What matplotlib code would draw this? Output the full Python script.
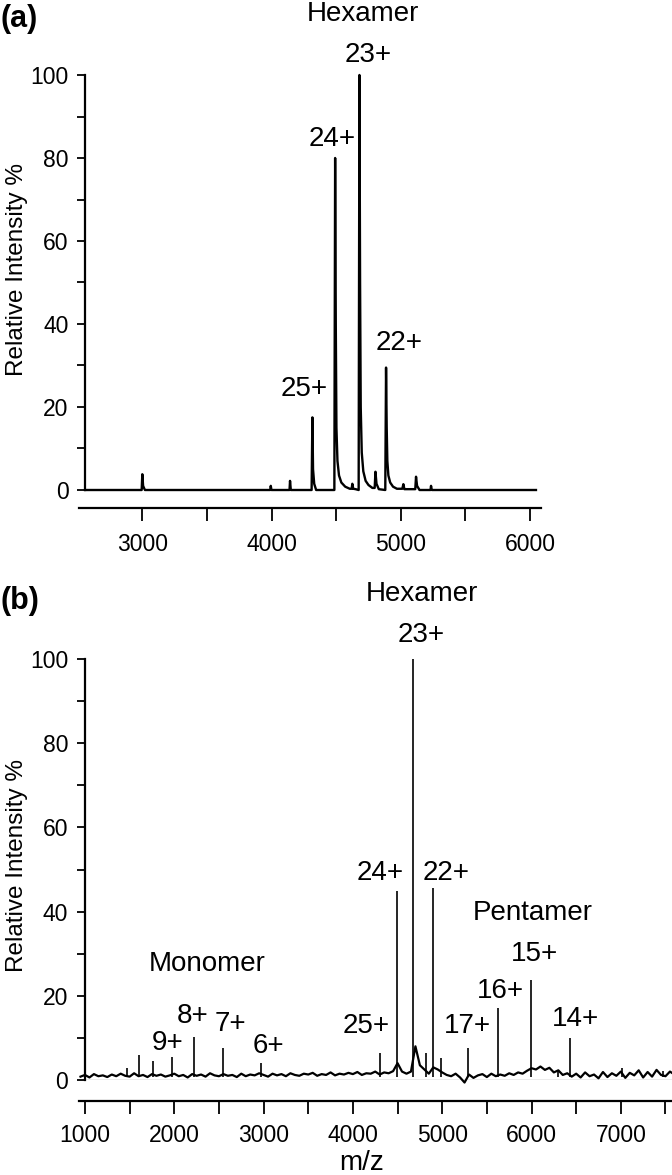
import matplotlib
matplotlib.use('Agg')
import matplotlib.pyplot as plt
import numpy as np
from matplotlib.ticker import MultipleLocator

plt.rcParams['font.family'] = ['Liberation Sans', 'DejaVu Sans']

# ---- panel (a): hexamer spectrum, trace ----
a_mz = [2557, 2995, 3000, 3006, 3020, 3990, 3994, 3999, 4139, 4143, 4149,
        4310, 4316, 4321, 4330, 4345, 4486, 4492, 4497, 4502, 4510, 4522,
        4540, 4570, 4605, 4620, 4625, 4632, 4650, 4674, 4680, 4685, 4690,
        4698, 4710, 4728, 4750, 4780, 4798, 4804, 4812, 4830, 4880, 4886,
        4891, 4896, 4904, 4918, 4940, 4970, 5012, 5020, 5028, 5112, 5118,
        5126, 5145, 5230, 5234, 5240, 6046]
a_int = [0, 0, 3.8, 1, 0, 0, 1.0, 0, 0, 2.2, 0,
         0, 17.5, 5, 1.5, 0, 0, 80, 40, 15, 7, 3.5,
         1.8, 0.8, 0.3, 0.3, 1.5, 0.3, 0.2, 0, 100, 50, 20,
         9, 4.5, 2.2, 1.2, 0.5, 0.5, 4.4, 1.5, 0.2, 0, 29.5,
         15, 7, 3.5, 1.8, 0.8, 0.3, 0.3, 1.4, 0.2, 0.2, 3.2,
         1, 0, 0, 1.0, 0, 0]

a_labels = ['Hexamer', '23+', '24+', '25+', '22+']
a_label_mz = [4708, 4751, 4469, 4252, 4987]
a_label_y = [114.7, 104.8, 84.6, 24.3, 35.5]

# ---- panel (b): baseline noise every 50 m/z from 950, plus peaks ----
b_noise = [0.8, 1.2, 0.6, 1.4, 0.9, 1.1, 0.7, 1.3, 0.9, 1.5, 1.0,
           0.8, 1.6, 0.9, 1.2, 0.7, 1.4, 1.0, 1.3, 0.8, 1.1,
           1.5, 0.9, 1.2, 0.6, 1.4, 1.0, 1.3, 0.8, 1.6, 1.1,
           0.9, 1.4, 1.0, 1.2, 0.7, 1.5, 0.9, 1.3, 1.1, 1.6,
           1.2, 0.8, 1.5, 1.1, 1.4, 0.9, 1.6, 1.2, 1.0, 1.5,
           1.3, 1.7, 1.0, 1.4, 1.2, 1.8, 1.1, 1.5, 1.3, 1.7,
           1.4, 1.9, 1.2, 1.6, 1.5, 2.0, 1.3, 1.8, 1.6, 2.1,
           4.0, 2.0, 1.5, 2.0, 8.0, 3.5, 2.5, 1.5, 3.0, 2.5,
           1.8, 1.2, 0.9, 1.5, 0.6, -0.6, 1.3, 0.5, 1.1, 1.4,
           0.7, 1.5, 0.9, 1.3, 1.0, 1.6, 1.2, 1.8, 1.5, 2.2,
           2.8, 2.5, 3.2, 2.4, 2.9, 1.8, 2.3, 1.2, 1.6, 0.8,
           1.5, 0.6, 1.8, 0.9, 1.3, 0.4, 1.9, 0.7, 1.6, 1.0,
           2.0, 0.5, 1.7, 1.1, 2.3, 0.6, 1.9, 0.8, 2.4, 1.2,
           0.9, 2.0, 1.3]
b_noise_start = 950
b_noise_step = 50

b_peak_mz = [1467, 1605, 1765, 1971, 2221, 2545, 2971, 4303, 4490, 4677,
             4819, 4900, 4987, 5285, 5621, 5994, 6300, 6431, 7017, 7476]
b_peak_int = [2.8, 5.9, 4.6, 5.5, 10.3, 7.5, 4.0, 6.5, 45, 100,
              6.5, 45.5, 5.2, 7.7, 17.1, 23.8, 2.4, 10, 2.9, 2.2]

b_labels = ['Hexamer', '23+', '24+', '22+', 'Pentamer', '15+', '16+', '17+',
            '14+', '25+', 'Monomer', '8+', '7+', '9+', '6+']
b_label_mz = [4768, 4768, 4303, 5043, 6017, 6034, 5654, 5287,
              6493, 4151, 2368, 2205, 2627, 1925, 3053]
b_label_y = [115.4, 105.7, 49.2, 49.2, 39.7, 29.9, 21.1, 12.8,
             14.5, 12.8, 27.5, 15.2, 13.3, 8.9, 8.1]

W, H = 672, 1175
fig = plt.figure(figsize=(W / 100, H / 100), dpi=100)


def style_axes(ax, spine_x, xmaj, xmin, out, xpad):
    for s in ['top', 'right']:
        ax.spines[s].set_visible(False)
    ax.spines['left'].set_position(('data', spine_x))
    ax.spines['left'].set_bounds(0, 100)
    ax.spines['bottom'].set_position(('outward', out))
    for s in ['left', 'bottom']:
        ax.spines[s].set_linewidth(1.6)
    ax.set_ylim(0, 100)
    ax.yaxis.set_major_locator(MultipleLocator(20))
    ax.yaxis.set_minor_locator(MultipleLocator(10))
    ax.xaxis.set_major_locator(MultipleLocator(xmaj))
    ax.xaxis.set_minor_locator(MultipleLocator(xmin))
    ax.tick_params(axis='y', which='both', direction='out', length=6,
                   width=1.3, labelsize=16.5, pad=6)
    ax.tick_params(axis='x', which='both', direction='out', length=9.5,
                   width=1.3, labelsize=16.5, pad=xpad)
    ax.patch.set_visible(False)


# panel (a)
ax1 = fig.add_axes([79 / W, 1 - 490 / H, (541 - 79) / W, 415 / H])
ax1.set_xlim(2510, 6085)
style_axes(ax1, 2557, 1000, 500, 13, 8.5)
ax1.plot(a_mz, a_int, color='black', lw=1.7, clip_on=False)
for t, x, y in zip(a_labels, a_label_mz, a_label_y):
    ax1.text(x, y, t, ha='center', va='center', fontsize=20, clip_on=False)
fig.text(17 / W, 1 - 270 / H, 'Relative Intensity %', rotation=90,
         ha='center', va='center', fontsize=17.5)
fig.text(0.0, 1 - 19 / H, '(a)', ha='left', va='center', fontsize=22,
         fontweight='bold')

# panel (b)
ax2 = fig.add_axes([79 / W, 1 - 1080 / H, (W - 79) / W, 421 / H])
ax2.set_xlim(933, 7573)
style_axes(ax2, 1000, 1000, 500, 15, 7)
noise_mz = b_noise_start + b_noise_step * np.arange(len(b_noise))
ax2.axhline(0, color='#999999', lw=1.0, zorder=1)
ax2.plot(noise_mz, b_noise, color='black', lw=1.6, clip_on=False)
ax2.vlines(b_peak_mz, 0.6, b_peak_int, color='black', lw=1.2)
for t, x, y in zip(b_labels, b_label_mz, b_label_y):
    ax2.text(x, y, t, ha='center', va='center', fontsize=20, clip_on=False)
fig.text(17 / W, 1 - 865 / H, 'Relative Intensity %', rotation=90,
         ha='center', va='center', fontsize=17.5)
fig.text(362 / W, 1 - 1163 / H, 'm/z', ha='center', va='center', fontsize=20)
fig.text(0.0, 1 - 601 / H, '(b)', ha='left', va='center', fontsize=22,
         fontweight='bold')

fig.savefig('out.png', dpi=100)
